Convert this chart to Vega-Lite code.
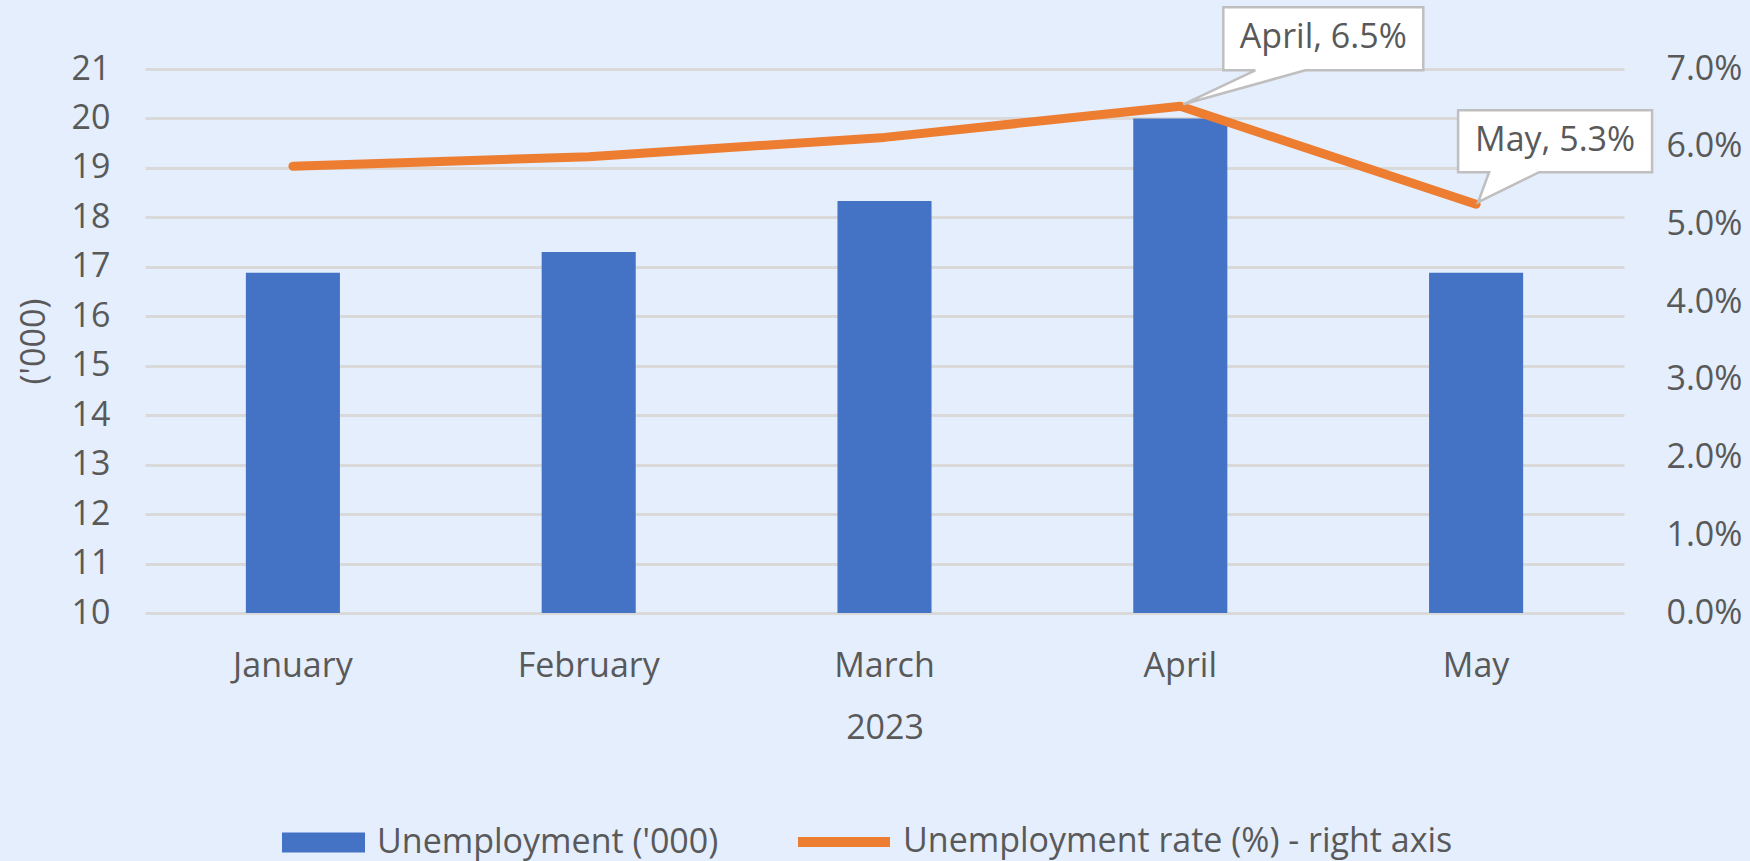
{
  "$schema": "https://vega.github.io/schema/vega-lite/v6.json",
  "width": 1479,
  "height": 544,
  "autosize": {"type": "none"},
  "padding": {"left": 145, "top": 69, "right": 126, "bottom": 248},
  "background": "#E4EEFD",
  "config": {
    "view": {"stroke": null},
    "font": "Open Sans",
    "axis": {
      "labelColor": "#595959",
      "titleColor": "#595959",
      "labelFont": "Open Sans",
      "titleFont": "Open Sans",
      "labelFontSize": 34,
      "titleFontSize": 34,
      "titleFontWeight": "normal",
      "ticks": false,
      "domain": false
    },
    "legend": {
      "labelFont": "Open Sans",
      "labelFontSize": 34,
      "labelColor": "#595959",
      "labelLimit": 0,
      "padding": 0
    }
  },
  "data": {
    "values": [
      {"month": "January", "unemployment": 16.88, "rate": 5.75, "label": null},
      {"month": "February", "unemployment": 17.3, "rate": 5.87, "label": null},
      {"month": "March", "unemployment": 18.33, "rate": 6.12, "label": null},
      {"month": "April", "unemployment": 20.0, "rate": 6.52, "label": "April, 6.5%"},
      {"month": "May", "unemployment": 16.88, "rate": 5.26, "label": "May, 5.3%"}
    ]
  },
  "encoding": {
    "x": {
      "field": "month",
      "type": "nominal",
      "sort": ["January", "February", "March", "April", "May"],
      "scale": {"paddingInner": 0.682, "paddingOuter": 0.341},
      "axis": {"labelAngle": 0, "labelPadding": 36, "title": "2023", "titlePadding": 28}
    }
  },
  "layer": [
    {
      "mark": {"type": "bar"},
      "encoding": {
        "y": {
          "field": "unemployment",
          "type": "quantitative",
          "scale": {"domain": [10, 21], "nice": false, "zero": false},
          "axis": {
            "values": [10, 11, 12, 13, 14, 15, 16, 17, 18, 19, 20, 21],
            "grid": true,
            "gridColor": "#D9D9D9",
            "gridWidth": 3,
            "labelPadding": 35,
            "title": "('000)",
            "titlePadding": 20
          }
        },
        "y2": {"datum": 10},
        "fill": {
          "datum": "Unemployment ('000)",
          "type": "nominal",
          "scale": {"range": ["#4472C4"]},
          "legend": {
            "orient": "none",
            "legendX": 137,
            "legendY": 732,
            "title": null,
            "symbolType": "M-1,-0.24H1V0.24H-1Z",
            "symbolSize": 6889,
            "symbolStrokeWidth": 0,
            "labelOffset": 12
          }
        }
      }
    },
    {
      "layer": [
        {
          "mark": {"type": "line", "strokeWidth": 9, "strokeCap": "round", "strokeJoin": "round"},
          "encoding": {
            "y": {
              "field": "rate",
              "type": "quantitative",
              "scale": {"domain": [0, 7], "nice": false, "zero": true},
              "axis": {
                "orient": "right",
                "values": [0, 1, 2, 3, 4, 5, 6, 7],
                "grid": false,
                "labelPadding": 42,
                "labelExpr": "format(datum.value, '.1f') + '%'",
                "title": null
              }
            },
            "stroke": {
              "datum": "Unemployment rate (%) - right axis",
              "type": "nominal",
              "scale": {"range": ["#ED7D31"]},
              "legend": {
                "orient": "none",
                "legendX": 648,
                "legendY": 722,
                "title": null,
                "symbolType": "M-1,0H1",
                "symbolSize": 8464,
                "symbolStrokeWidth": 10,
                "labelOffset": 8
              }
            }
          }
        },
        {
          "transform": [{"filter": "datum.month === 'April'"}],
          "mark": {
            "type": "point",
            "shape": "M0.43,-0.99H2.43V-0.36H1.25L0.03,-0.02L0.75,-0.36H0.43Z",
            "size": 40000,
            "filled": true,
            "fill": "#FFFFFF",
            "stroke": "#BFBFBF",
            "strokeWidth": 2.5,
            "opacity": 1
          },
          "encoding": {"y": {"field": "rate", "type": "quantitative"}}
        },
        {
          "transform": [{"filter": "datum.month === 'May'"}],
          "mark": {
            "type": "point",
            "shape": "M-0.18,-0.94H1.76V-0.32H0.63L0.02,-0.02L0.13,-0.32H-0.18Z",
            "size": 40000,
            "filled": true,
            "fill": "#FFFFFF",
            "stroke": "#BFBFBF",
            "strokeWidth": 2.5,
            "opacity": 1
          },
          "encoding": {"y": {"field": "rate", "type": "quantitative"}}
        },
        {
          "transform": [{"filter": "datum.month === 'April'"}],
          "mark": {"type": "text", "dx": 143, "dy": -68, "fontSize": 34, "font": "Open Sans", "color": "#595959", "align": "center", "baseline": "middle"},
          "encoding": {
            "y": {"field": "rate", "type": "quantitative"},
            "text": {"field": "label", "type": "nominal"}
          }
        },
        {
          "transform": [{"filter": "datum.month === 'May'"}],
          "mark": {"type": "text", "dx": 79, "dy": -63, "fontSize": 34, "font": "Open Sans", "color": "#595959", "align": "center", "baseline": "middle"},
          "encoding": {
            "y": {"field": "rate", "type": "quantitative"},
            "text": {"field": "label", "type": "nominal"}
          }
        }
      ]
    }
  ],
  "resolve": {"scale": {"y": "independent"}}
}
